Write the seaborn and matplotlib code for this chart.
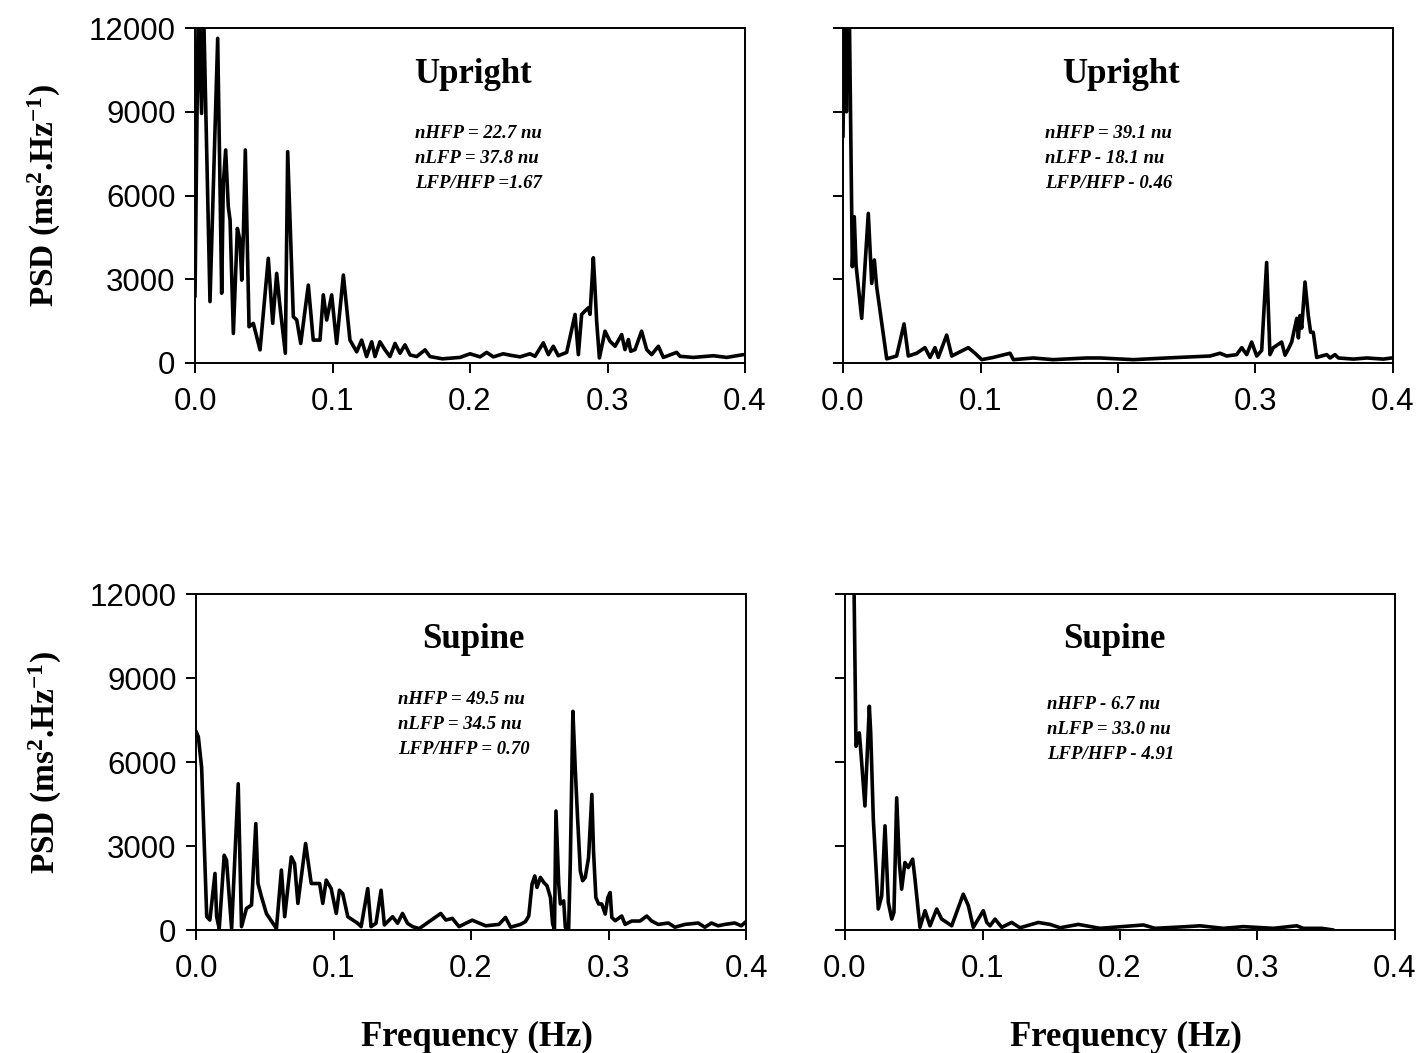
import matplotlib
matplotlib.use("Agg")
import matplotlib.pyplot as plt
import seaborn as sns
import pandas as pd

# ---------------- data ----------------
ul_freq = [0.000, 0.0024, 0.0048, 0.0061, 0.0109, 0.0165, 0.0194, 0.0206, 0.0223, 0.0242,
           0.0255, 0.0279, 0.0308, 0.0327, 0.034, 0.0352, 0.0366, 0.0393, 0.0424, 0.0473,
           0.0533, 0.0565, 0.0594, 0.0618, 0.0657, 0.0674, 0.0715, 0.074, 0.0769, 0.0824,
           0.086, 0.0909, 0.0933, 0.0958, 0.0994, 0.103, 0.1079, 0.1127, 0.1176, 0.1212,
           0.1248, 0.1285, 0.1309, 0.1345, 0.1382, 0.1418, 0.1455, 0.1491, 0.1527, 0.1564,
           0.1612, 0.1673, 0.1709, 0.180, 0.1927, 0.2, 0.2073, 0.2121, 0.217, 0.2242,
           0.2291, 0.2364, 0.2436, 0.2473, 0.2533, 0.257, 0.2606, 0.2642, 0.2703, 0.2764,
           0.2788, 0.2812, 0.2836, 0.2861, 0.2873, 0.2897, 0.2909, 0.2921, 0.2941, 0.2982,
           0.3018, 0.3055, 0.3103, 0.3127, 0.3152, 0.3169, 0.32, 0.3248, 0.3285, 0.3321,
           0.337, 0.3406, 0.3503, 0.3527, 0.3624, 0.377, 0.3867, 0.3988]
ul_psd = [2375, 13000, 8940, 13000, 2200, 11630, 2500, 6440, 7630, 5600,
          5120, 1060, 4820, 4400, 2970, 4640, 7630, 1300, 1420, 470,
          3750, 1420, 3210, 2020, 350, 7570, 1660, 1540, 700, 2790,
          820, 820, 2440, 1540, 2440, 700, 3150, 820, 400, 820,
          230, 760, 230, 760, 470, 230, 700, 350, 650, 290,
          230, 470, 230, 150, 200, 330, 220, 380, 220, 330,
          280, 220, 330, 240, 720, 300, 600, 260, 380, 1740,
          300, 1740, 1860, 1980, 1740, 3770, 2690, 1500, 180, 1140,
          780, 600, 1020, 480, 840, 420, 480, 1140, 480, 300,
          600, 200, 380, 240, 200, 260, 200, 300]

ur_freq = [0.0, 0.0012, 0.0025, 0.0035, 0.0045, 0.0068, 0.0082, 0.0095, 0.0136, 0.0184,
           0.0209, 0.0228, 0.0245, 0.0318, 0.039, 0.0444, 0.0475, 0.0536, 0.0596, 0.0633,
           0.0669, 0.0693, 0.0754, 0.0791, 0.0851, 0.0911, 0.096, 0.1009, 0.1093, 0.1215,
           0.1239, 0.1384, 0.1527, 0.1772, 0.187, 0.2111, 0.2354, 0.2669, 0.2742, 0.279,
           0.2863, 0.29, 0.2936, 0.2972, 0.3009, 0.3045, 0.3081, 0.3093, 0.3105, 0.313,
           0.319, 0.3215, 0.3239, 0.3263, 0.33, 0.3312, 0.3324, 0.3336, 0.336, 0.3384,
           0.3401, 0.342, 0.3445, 0.3518, 0.3542, 0.3578, 0.3603, 0.3712, 0.3809, 0.393, 0.399]
ur_psd = [8100, 13000, 9000, 13000, 13000, 3450, 5240, 3500, 1600, 5360,
          2850, 3690, 2730, 150, 250, 1400, 250, 350, 550, 200,
          550, 200, 1000, 250, 400, 550, 350, 120, 200, 350,
          120, 180, 120, 180, 180, 120, 180, 250, 350, 250,
          300, 550, 300, 750, 250, 450, 3600, 2000, 300, 550,
          750, 280, 500, 750, 1600, 900, 1700, 1250, 2900, 1700,
          1100, 1100, 200, 300, 180, 300, 180, 140, 180, 140, 180]

sl_freq = [0.0, 0.0017, 0.0041, 0.0078, 0.0101, 0.0138, 0.015, 0.0169, 0.0205, 0.0222,
           0.0259, 0.0307, 0.0331, 0.0367, 0.0404, 0.0435, 0.0451, 0.0476, 0.0512, 0.0585,
           0.0621, 0.0645, 0.0693, 0.0717, 0.0741, 0.0797, 0.0838, 0.0899, 0.0922, 0.0947,
           0.0983, 0.102, 0.1043, 0.1067, 0.1104, 0.114, 0.1176, 0.1201, 0.1249, 0.1273,
           0.1309, 0.1346, 0.137, 0.143, 0.1466, 0.1502, 0.1538, 0.1575, 0.1623, 0.178,
           0.1817, 0.1864, 0.1913, 0.1962, 0.2009, 0.2107, 0.2203, 0.2251, 0.2288, 0.2324,
           0.236, 0.2396, 0.242, 0.2444, 0.2464, 0.248, 0.2505, 0.2529, 0.2553, 0.2578,
           0.2594, 0.2607, 0.2618, 0.2638, 0.265, 0.2674, 0.2686, 0.271, 0.2722, 0.2741,
           0.2759, 0.2775, 0.2795, 0.2812, 0.2831, 0.2855, 0.2879, 0.2891, 0.2908, 0.2928,
           0.2951, 0.2976, 0.2995, 0.3012, 0.3024, 0.3049, 0.3096, 0.3121, 0.3169, 0.323,
           0.3278, 0.3314, 0.3362, 0.3435, 0.3483, 0.3556, 0.3652, 0.3701, 0.3749, 0.3797,
           0.3846, 0.3918, 0.3966, 0.4]
sl_psd = [7100, 6900, 5800, 475, 356, 2020, 475, 50, 2670, 2490,
          50, 5220, 120, 770, 890, 3800, 1660, 1190, 590, 50,
          2140, 475, 2610, 2370, 950, 3090, 1660, 1660, 950, 1780,
          1480, 590, 1420, 1300, 475, 356, 240, 120, 1480, 120,
          240, 1420, 180, 475, 240, 590, 240, 120, 50, 590,
          356, 415, 120, 240, 350, 150, 200, 450, 100, 150,
          200, 300, 500, 1640, 1930, 1520, 1880, 1700, 1580, 1160,
          210, 30, 4250, 1640, 930, 1040, 95, 30, 2350, 7810,
          5670, 4010, 2110, 1760, 1880, 2590, 4840, 2830, 1160, 930,
          930, 570, 1160, 1340, 450, 330, 500, 200, 320, 320,
          500, 320, 200, 250, 100, 200, 250, 100, 250, 150,
          200, 250, 150, 300]

sr_freq = [0.0, 0.003, 0.0065, 0.008, 0.0104, 0.0114, 0.0145, 0.0177, 0.0187, 0.0206,
           0.0242, 0.0267, 0.0291, 0.0315, 0.034, 0.0356, 0.0376, 0.0395, 0.0412, 0.0436,
           0.046, 0.0492, 0.0509, 0.0545, 0.0582, 0.0618, 0.0667, 0.0703, 0.074, 0.0776,
           0.086, 0.0897, 0.0933, 0.1006, 0.1031, 0.1055, 0.1091, 0.114, 0.1212, 0.1273,
           0.1406, 0.1491, 0.1564, 0.1697, 0.1855, 0.217, 0.2255, 0.2485, 0.2582, 0.2752,
           0.2897, 0.3115, 0.3285, 0.3333, 0.3467, 0.3552]
sr_psd = [14000, 16000, 12500, 6560, 7040, 6450, 4430, 7990, 7040, 3950,
          750, 1220, 3720, 985, 390, 630, 4720, 2410, 1460, 2410,
          2230, 2530, 1820, 95, 690, 150, 750, 390, 270, 150,
          1280, 870, 95, 690, 270, 150, 390, 95, 270, 80,
          270, 200, 80, 200, 60, 180, 60, 120, 150, 60,
          120, 60, 150, 60, 60, 0]

panel_titles = ["Upright", "Upright", "Supine", "Supine"]
panel_notes = [
    ["nHFP = 22.7 nu", "nLFP = 37.8 nu", "LFP/HFP =1.67"],
    ["nHFP = 39.1 nu", "nLFP - 18.1 nu", "LFP/HFP - 0.46"],
    ["nHFP = 49.5 nu", "nLFP = 34.5 nu", "LFP/HFP = 0.70"],
    ["nHFP - 6.7 nu", "nLFP = 33.0 nu", "LFP/HFP - 4.91"],
]
x_ticks = [0.0, 0.1, 0.2, 0.3, 0.4]
x_tick_labels = ["0.0", "0.1", "0.2", "0.3", "0.4"]
y_ticks = [0, 3000, 6000, 9000, 12000]
y_tick_labels = ["0", "3000", "6000", "9000", "12000"]
y_label = r"PSD (ms$^{2}$.Hz$^{-1}$)"
x_label = "Frequency (Hz)"

# ---------------- style ----------------
sns.set_theme(style="ticks")
plt.rcParams["font.family"] = ["Liberation Sans", "DejaVu Sans"]
plt.rcParams["mathtext.fontset"] = "custom"
plt.rcParams["mathtext.rm"] = "Liberation Serif:bold"
plt.rcParams["mathtext.bf"] = "Liberation Serif:bold"
plt.rcParams["mathtext.it"] = "Liberation Serif:bold:italic"
plt.rcParams["mathtext.default"] = "rm"

W, H = 1420, 1053
fig = plt.figure(figsize=(W / 100, H / 100), dpi=100)
fig.patch.set_facecolor("white")

# pixel boxes: (left, top, right, bottom)
boxes = [(195, 28, 745, 363), (843, 28, 1393, 363),
         (196, 594, 746, 930), (845, 594, 1395, 930)]
data = [(ul_freq, ul_psd), (ur_freq, ur_psd), (sl_freq, sl_psd), (sr_freq, sr_psd)]
title_pos = [(0.505, 0.86), (0.505, 0.86), (0.505, 0.865), (0.49, 0.865)]
note_pos = [(0.40, 0.685), (0.367, 0.685), (0.367, 0.685), (0.367, 0.67)]

for i, ((l, t, r, b), (fr, ps)) in enumerate(zip(boxes, data)):
    ax = fig.add_axes([l / W, 1 - b / H, (r - l) / W, (b - t) / H])
    df = pd.DataFrame({"freq": fr, "psd": ps})
    sns.lineplot(data=df, x="freq", y="psd", ax=ax, color="black",
                 linewidth=2.6, estimator=None)
    ax.set_xlim(0, 0.4)
    ax.set_ylim(0, 12000)
    ax.set_xticks(x_ticks)
    ax.set_xticklabels(x_tick_labels)
    ax.set_yticks(y_ticks)
    ax.set_yticklabels(y_tick_labels)
    for s in ax.spines.values():
        s.set_visible(True)
        s.set_color("black")
        s.set_linewidth(1.4)
    ax.tick_params(axis="both", direction="out", length=7, width=1.4,
                   colors="black", labelsize=22.5)
    ax.tick_params(axis="y", pad=7)
    ax.tick_params(axis="x", pad=10)
    ax.set_xlabel("")
    ax.set_ylabel("")
    if i in (1, 3):
        ax.tick_params(axis="y", labelleft=False)
    else:
        ax.set_ylabel(y_label, fontsize=24, fontweight="bold",
                      family="Liberation Serif", color="black")
        ax.yaxis.set_label_coords(-0.24, 0.5)
    if i in (2, 3):
        ax.set_xlabel(x_label, fontsize=25, fontweight="bold",
                      family="Liberation Serif", color="black")
        ax.xaxis.set_label_coords(0.51, -0.27)
    tx, ty = title_pos[i]
    ax.text(tx, ty, panel_titles[i], transform=ax.transAxes, ha="center",
            va="center", fontsize=25, fontweight="bold",
            family="Liberation Serif", color="black")
    nx, ny = note_pos[i]
    for k, line in enumerate(panel_notes[i]):
        ax.text(nx, ny - k * 0.074, line, transform=ax.transAxes, ha="left",
                va="center", fontsize=13.5, fontweight="bold", style="italic",
                family="Liberation Serif", color="black")

fig.savefig("out.png", dpi=100, facecolor="white")
